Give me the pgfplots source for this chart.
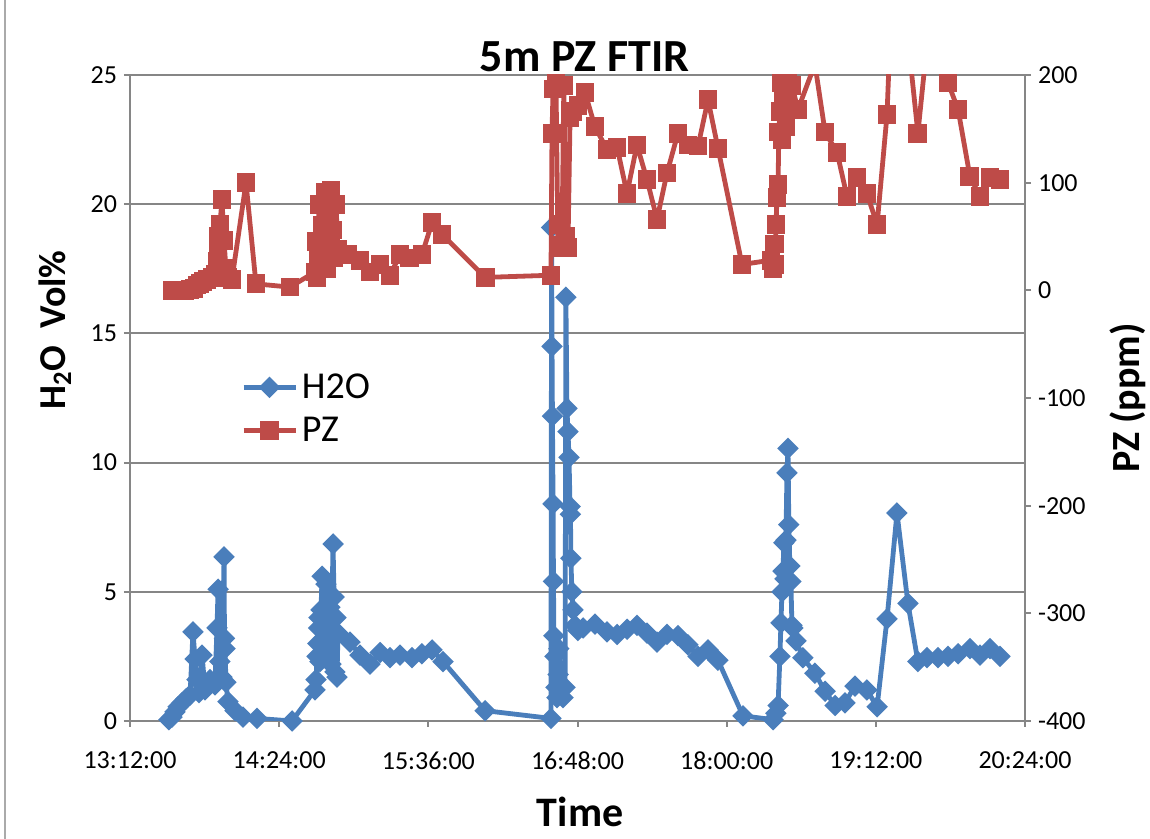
\documentclass[border=0pt]{standalone}
\usepackage{fontspec}
\setmainfont{Carlito}
\usepackage{pgfplots}
\pgfplotsset{compat=1.18}
\definecolor{bH}{RGB}{74,126,187}
\definecolor{rP}{RGB}{190,75,72}
\definecolor{gr}{RGB}{134,134,134}
\pgfplotsset{
  common/.style={
    scale only axis, width=447.5pt, height=323pt,
    xmin=0, xmax=432, clip mode=individual,
    /pgf/number format/assume math mode=true,
    tick align=outside, major tick length=3pt,
    tick style={gr, line width=1pt},
    axis line style={gr, line width=1pt},
    ticklabel style={font=\fontsize{13}{15}\selectfont, black},
  },
  h2o/.style={bH, line width=2.4pt, line join=round, mark=square*, mark size=3.4pt,
    mark options={rotate=45, fill=bH, line width=0.8pt, solid, line join=miter}},
  pz/.style={rP, line width=2.4pt, line join=round, mark=square*, mark size=4.3pt,
    mark options={fill=rP, line width=0.8pt, solid, line join=miter}},
}
\begin{document}
\begin{tikzpicture}
\path[use as bounding box] (-65pt,-59pt) rectangle (510pt,360.5pt);
\draw[gr!70, line width=0.8pt] (-62.5pt,-59pt) -- (-62.5pt,360.5pt);
\begin{axis}[common,
  axis y line*=left, axis x line*=bottom,
  ymin=0, ymax=25, ytick={0,5,10,15,20,25},
  xtick={0,72,144,216,288,360,432},
  xticklabels={13:12:00,14:24:00,15:36:00,16:48:00,18:00:00,19:12:00,20:24:00},
  xticklabel style={yshift=-9pt},
  ymajorgrids, grid style={gr, line width=1pt},
]
\addplot[h2o] coordinates {
(18.8,0.05)(20.3,0.15)(21.7,0.35)(23.2,0.55)(25.1,0.7)(27.0,0.85)(29.0,1.0)
(30.4,3.45)(31.4,2.4)(32.3,1.6)(33.3,1.1)(34.8,2.55)(36.2,1.2)(38.6,1.6)(41.0,1.4)
(42.0,3.6)(42.5,5.1)(43.4,2.3)(44.4,1.7)(45.4,6.35)(45.6,3.2)(45.9,2.8)(46.3,1.5)
(47.3,0.75)(50.7,0.4)(54.5,0.15)(61.3,0.1)(78.2,0.0)
(89.3,1.2)(89.8,1.6)(90.3,2.5)(90.7,3.0)(91.0,3.6)(91.2,4.0)(91.7,2.3)(92.2,4.3)
(92.7,5.6)(93.6,3.2)(94.6,5.3)(95.6,2.6)(96.5,4.4)(97.0,2.2)(98.0,6.85)(98.5,4.8)
(98.9,1.9)(99.4,4.0)(99.9,1.7)(100.4,3.4)(106.2,3.05)(111.0,2.55)(115.8,2.2)
(120.7,2.65)(125.5,2.45)(130.3,2.55)(136.1,2.45)(140.9,2.6)(145.8,2.75)(151.1,2.3)
(171.4,0.4)(203.2,0.1)
(203.5,19.1)(203.7,14.5)(203.9,11.8)(204.2,8.4)(204.4,5.4)(204.6,3.3)(205.1,2.5)
(205.6,1.3)(206.1,0.9)(206.6,1.8)(207.0,2.8)(209.0,0.9)(210.0,1.3)
(210.4,16.4)(210.9,12.1)(211.4,11.2)(211.9,10.2)(212.4,8.3)(212.6,8.0)(212.8,6.3)
(213.3,5.0)(213.8,4.3)(214.8,3.7)(216.2,3.5)(218.7,3.6)
(224.4,3.75)(230.2,3.45)(235.1,3.35)(239.9,3.55)(244.7,3.7)(249.5,3.4)(254.4,3.05)
(259.2,3.35)(264.5,3.3)(269.3,2.95)(274.2,2.5)(279.0,2.75)(283.8,2.35)
(295.9,0.2)(310.4,0.05)(311.8,0.3)(312.8,0.6)(313.7,2.5)(314.2,3.8)(314.7,5.0)
(315.2,5.8)(315.6,6.9)(316.1,5.5)(316.6,7.0)(317.1,9.6)(317.6,10.55)(318.0,7.6)
(318.5,6.0)(319.0,5.4)(319.5,3.7)(320.0,3.6)(321.5,3.1)(324.8,2.45)(330.6,1.85)
(335.5,1.15)(340.3,0.6)(345.1,0.7)(349.9,1.35)(355.7,1.2)(360.6,0.55)
(365.4,3.95)(370.2,8.05)(375.5,4.55)(380.3,2.3)(384.7,2.45)(390.0,2.45)(394.8,2.5)
(399.7,2.6)(405.4,2.8)(410.3,2.55)(415.1,2.8)(419.9,2.5)
};
\node[font=\bfseries\fontsize{23}{27}\selectfont] at (axis description cs:0.508,1.028) {5m PZ FTIR};
\node[font=\bfseries\fontsize{19}{23}\selectfont, rotate=90] at (axis description cs:-0.0838,0.605) {H\textsubscript{2}O\ \ Vol\%};
\node[font=\bfseries\fontsize{21}{25}\selectfont] at (axis description cs:0.503,-0.141) {Time};
\end{axis}
\begin{axis}[common,
  axis y line*=right, axis x line=none,
  ymin=-400, ymax=200, ytick={-400,-300,-200,-100,0,100,200},
  legend style={draw=none, fill=none, at={(axis description cs:0.117,0.551)}, anchor=north west,
    font=\fontsize{19}{23}\selectfont, row sep=4pt},
  legend cell align=left,
  legend image code/.code={\draw[mark repeat=2,mark phase=2,#1] plot coordinates {(0pt,0pt)(13pt,0pt)(26pt,0pt)};},
]
\addlegendimage{h2o}
\addlegendentry{H2O}
\begin{scope}
\clip (axis cs:-50,-400) rectangle (axis cs:480,200);
\addplot[pz] coordinates {
(20.3,0)(22.2,0)(24.1,0)(26.5,0)(29.0,1)(30.9,2)(32.3,5)(33.8,6)(35.2,8)(37.2,10)
(39.6,12)(41.0,15)(42.0,27)(42.5,40)(42.9,50)(43.4,61)(44.4,84)(45.4,46)(46.3,20)
(47.3,12)(49.2,10)(56.0,100)(60.8,6)(77.2,3)
(89.3,17)(89.8,45)(90.3,12)(90.7,30)(91.2,80)(91.7,25)(92.7,60)(93.1,33)(94.1,91)
(95.1,20)(95.6,72)(96.5,40)(97.0,93)(98.0,56)(98.5,30)(99.4,80)(100.4,38)
(105.2,33)(111.0,28)(115.8,17)(120.7,24)(125.5,14)(130.3,33)(135.1,30)(140.9,33)
(145.8,63)(150.6,52)(171.4,12)(203.2,14)
(203.7,146)(204.2,187)(205.6,195)(206.6,40)(207.5,61)(208.5,42)(209.4,190)(210.4,50)
(211.4,40)(212.4,160)(213.8,166)(216.2,172)(219.6,184)(224.4,152)(230.2,131)
(235.1,133)(239.9,90)(244.7,135)(249.5,103)(254.4,66)(259.2,109)(264.5,146)
(269.3,135)(274.2,134)(279.0,177)(283.8,132)(295.4,24)
(309.4,28)(310.4,20)(310.9,43)(311.3,24)(311.8,61)(312.3,86)(312.8,98)(313.2,147)
(313.7,166)(314.2,193)(314.7,140)(315.6,176)(316.6,152)(317.6,195)(319.5,190)
(322.4,168)(330.6,210)(335.5,147)(341.3,128)(346.1,87)(350.9,105)(355.7,90)
(360.6,61)(365.4,163)(369.2,350)(380.3,146)(388.5,300)(394.8,193)(399.7,168)
(405.4,106)(410.3,87)(415.1,105)(419.9,103)
};
\end{scope}
\addlegendentry{PZ}
\node[font=\bfseries\fontsize{20}{24}\selectfont, rotate=90] at (axis description cs:1.115,0.5) {PZ (ppm)};
\end{axis}
\end{tikzpicture}
\end{document}
